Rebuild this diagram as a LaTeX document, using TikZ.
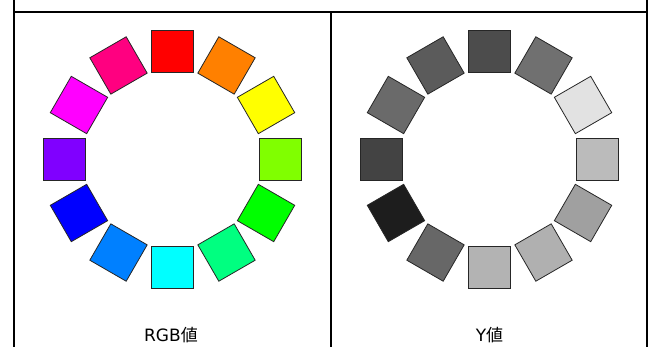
\documentclass[tikz,border=0pt]{standalone}
\usepackage{fontspec}
\usetikzlibrary{calc}
\setmainfont{DejaVu Sans}
\newfontfamily\cjkfont{Noto Sans CJK JP}
\begin{document}
\begin{tikzpicture}[x=1pt,y=1pt,
  swatch/.style={draw=black!85, line width=0.8pt, minimum size=42pt, inner sep=0pt, outer sep=0pt},
  frameline/.style={draw=black, line width=2pt},
  caption/.style={font=\fontsize{17}{19}\selectfont, inner sep=0pt}]
\useasboundingbox (0,0) rectangle (652,347);

% hue wheel colours, clockwise from the top
\definecolor{h0}{HTML}{FF0000}\definecolor{h1}{HTML}{FF8000}
\definecolor{h2}{HTML}{FFFF00}\definecolor{h3}{HTML}{80FF00}
\definecolor{h4}{HTML}{00FF00}\definecolor{h5}{HTML}{00FF80}
\definecolor{h6}{HTML}{00FFFF}\definecolor{h7}{HTML}{0080FF}
\definecolor{h8}{HTML}{0000FF}\definecolor{h9}{HTML}{8000FF}
\definecolor{h10}{HTML}{FF00FF}\definecolor{h11}{HTML}{FF0080}
% luminance of each swatch
\definecolor{g0}{HTML}{4C4C4C}\definecolor{g1}{HTML}{707070}
\definecolor{g2}{HTML}{E2E2E2}\definecolor{g3}{HTML}{BBBBBB}
\definecolor{g4}{HTML}{A0A0A0}\definecolor{g5}{HTML}{B0B0B0}
\definecolor{g6}{HTML}{B3B3B3}\definecolor{g7}{HTML}{676767}
\definecolor{g8}{HTML}{1D1D1D}\definecolor{g9}{HTML}{434343}
\definecolor{g10}{HTML}{6A6A6A}\definecolor{g11}{HTML}{5B5B5B}

% table frame
\draw[frameline] (14,347) -- (14,335) -- (647,335) -- (647,347);
\draw[frameline] (14,335) -- (14,0);
\draw[frameline] (331,335) -- (331,0);
\draw[frameline] (647,335) -- (647,0);

\coordinate (cl) at (172.5,188);
\coordinate (cr) at (489.5,188);

\foreach \i in {0,...,11}{
  \pgfmathsetmacro{\ang}{90-30*\i}
  \pgfmathsetmacro{\rot}{-30*\i}
  \node[swatch, fill=h\i, rotate=\rot] (rgb\i) at ($(cl)+(\ang:108)$) {};
  \node[swatch, fill=g\i, rotate=\rot] (lum\i) at ($(cr)+(\ang:108)$) {};
}

\node[caption] (capl) at (171,12) {RGB{\cjkfont 値}};
\node[caption] (capr) at (489.5,12) {Y{\cjkfont 値}};
\end{tikzpicture}
\end{document}
